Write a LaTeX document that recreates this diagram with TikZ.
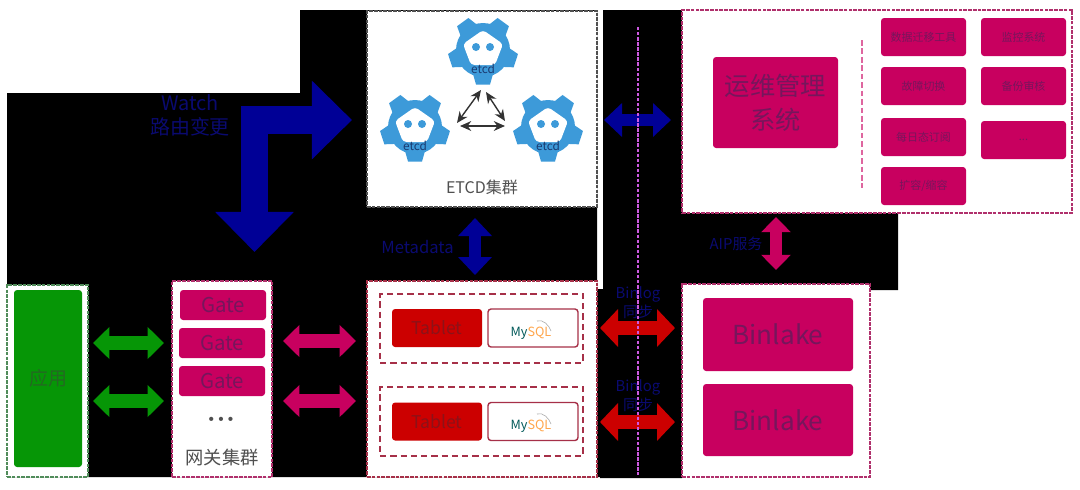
\documentclass[tikz,border=0pt]{standalone}
\usepackage{fontspec}
\setmainfont{Noto Sans CJK SC}
\newfontfamily\latinfont{Liberation Sans}
\usepackage{xcolor}
\definecolor{RosePink}{RGB}{200,0,95}
\definecolor{RoseText}{RGB}{118,22,92}
\definecolor{RoseBorder}{RGB}{176,48,108}
\definecolor{TabletRed}{RGB}{204,0,0}
\definecolor{TabletText}{RGB}{140,18,24}
\definecolor{RedBorder}{RGB}{166,48,72}
\definecolor{AppGreen}{RGB}{6,150,6}
\definecolor{AppText}{RGB}{36,104,34}
\definecolor{GreenBorder}{RGB}{80,140,90}
\definecolor{NavyArrow}{RGB}{0,0,150}
\definecolor{NavyText}{RGB}{10,10,112}
\definecolor{EtcdBlue}{RGB}{61,154,217}
\definecolor{EtcdText}{RGB}{26,58,112}
\definecolor{GrayText}{RGB}{80,80,80}
\definecolor{SplitViolet}{RGB}{205,90,225}
\usepackage{tikz}
\usetikzlibrary{arrows.meta}
\tikzset{
  % Size in reference pixels
  wh/.style 2 args={minimum width=#1*0.025cm, minimum height=#2*0.025cm},
  % Dashed white panels
  panel/.style={
    rectangle, draw=RoseBorder, fill=white, line width=0.9pt,
    dash pattern=on 2.6pt off 0.8pt, inner sep=0pt, outer sep=0pt
  },
  panel gray/.style={panel, draw=GrayText},
  panel red/.style={panel, draw=RedBorder},
  panel green/.style={panel, draw=GreenBorder},
  % Tablet groups
  group/.style={
    rectangle, draw=RedBorder, line width=1pt,
    dash pattern=on 4.5pt off 2.8pt, inner sep=0pt, outer sep=0pt
  },
  % Filled boxes
  rbox/.style={
    rectangle, rounded corners=2.2pt, fill=RosePink, text=RoseText,
    align=center, inner sep=0pt, outer sep=0pt
  },
  rbox red/.style={rbox, fill=TabletRed, text=TabletText},
  rbox green/.style={rbox, fill=AppGreen, text=AppText},
  rbox white/.style={rbox, fill=white, draw=RedBorder, line width=1pt},
  small/.style={rbox, wh={85}{38}, font=\fontsize{7.8}{9}\selectfont},
  gatebox/.style={rbox, wh={86}{30}, font=\fontsize{14.5}{16}\selectfont},
  % Free text
  note/.style={font=\fontsize{#1}{13.5}\selectfont, text=NavyText, align=center,
    inner sep=0pt, outer sep=0pt},
  grey/.style={font=\fontsize{#1}{#1}\selectfont, text=GrayText,
    inner sep=0pt, outer sep=0pt},
  % Block arrows
  arr green/.style={{Triangle[length=.41cm,width=.78cm]}-{Triangle[length=.41cm,width=.78cm]},
    line width=.33cm, draw=AppGreen},
  arr rose/.style={arr green, draw=RosePink},
  arr red/.style={{Triangle[length=.45cm,width=.92cm]}-{Triangle[length=.45cm,width=.92cm]},
    line width=.36cm, draw=TabletRed},
  arr navy/.style={{Triangle[length=.45cm,width=.82cm]}-{Triangle[length=.45cm,width=.82cm]},
    line width=.32cm, draw=NavyArrow},
  arr rosev/.style={{Triangle[length=.38cm,width=.72cm]}-{Triangle[length=.38cm,width=.72cm]},
    line width=.32cm, draw=RosePink},
  arr watch/.style={{Triangle[length=1cm,width=1.9cm]}-{Triangle[length=1cm,width=1.9cm]},
    line width=.68cm, draw=NavyArrow, line join=miter},
  arr thin/.style={{Stealth[length=8pt,width=7pt]}-{Stealth[length=8pt,width=7pt]},
    line width=1pt, draw=black!80},
  % etcd logo
  etcdgear/.pic={
    \fill[EtcdBlue] (0,0) circle (27);
    \foreach \a in {-90,-18,54,126,198}
      \fill[EtcdBlue, rotate=\a] (24,-10) -- (34.5,-7) -- (34.5,7) -- (24,10) -- cycle;
    \fill[white, rounded corners=2.5pt] (0,-20) -- (20,-6) -- (12,15) -- (-12,15) -- (-20,-6) -- cycle;
    \fill[EtcdBlue] (-7,-3) circle (4) (7,-3) circle (4);
    \node[font=\fontsize{8.4}{9}\selectfont, text=EtcdText, inner sep=0pt] (-name) at (0,19) {etcd};
  },
  % MySQL logo
  mysqllogo/.pic={
    \node[font=\fontsize{9}{10}\selectfont, inner sep=0pt] (-name) at (0,0)
      {\textcolor{teal!70!black}{My}\textcolor{orange!70}{SQL}};
    \draw[gray!70, line width=.4pt] (6,-12) .. controls (12,-14) and (18,-8) .. (20,-2);
  },
}

\begin{document}
\begin{tikzpicture}[x=0.025cm, y=-0.025cm]
  \useasboundingbox (0,0) rectangle (1080,489);

  %% Black ground
  \fill[black] (7,93) -- (300,93) -- (300,10) -- (597,10) -- (597,289) -- (600,289)
    -- (600,477) -- (7,477) -- cycle;
  \fill[black] (603,10) -- (682,10) -- (682,213) -- (898,213) -- (898,290) -- (870,290)
    -- (870,284) -- (682,284) -- (682,478) -- (600,478) -- (600,289) -- (603,289) -- cycle;

  %% Application
  \node[panel green, wh={81}{192}] (appp) at (47.5,381) {};
  \node[rbox green, wh={68}{177}, font=\fontsize{13.5}{15}\selectfont] (app) at (48,378.5) {应用};

  %% Gateway cluster
  \node[panel, wh={100}{196}] (gatep) at (222,379) {};
  \node[gatebox] (gate1) at (223,305) {Gate};
  \node[gatebox] (gate2) at (222,343) {Gate};
  \node[gatebox] (gate3) at (222,381) {Gate};
  \node[grey=11] (dots) at (221,421) {\latinfont •\kern3pt•\kern3pt•};
  \node[grey=13] (gatename) at (222,458) {网关集群};

  %% ETCD cluster
  \node[panel gray, wh={230}{196}] (etcdp) at (482,109) {};
  \pic (etcdA) at (483,50) {etcdgear};
  \pic (etcdB) at (415,127) {etcdgear};
  \pic (etcdC) at (548,127) {etcdgear};
  \node[grey=11.4] (etcdname) at (482,187) {ETCD集群};

  %% Tablets
  \node[panel red, wh={230}{196}] (tabp) at (482,379) {};
  \node[group, wh={203}{69}] (grp1) at (481.5,328.5) {};
  \node[group, wh={203}{69}] (grp2) at (481.5,421.5) {};
  \node[rbox red, wh={90}{38}, font=\fontsize{12.5}{14}\selectfont] (tab1) at (437,328) {Tablet};
  \node[rbox red, wh={90}{38}, font=\fontsize{12.5}{14}\selectfont] (tab2) at (437,421.5) {Tablet};
  \node[rbox white, wh={90}{38}] (sql1) at (533,328) {};
  \node[rbox white, wh={90}{38}] (sql2) at (533,421.5) {};
  \pic (logo1) at (531,333) {mysqllogo};
  \pic (logo2) at (531,426) {mysqllogo};

  %% Operations system
  \node[panel, wh={390}{203}] (opsp) at (877,111.5) {};
  \node[rbox, wh={125}{91}, font=\fontsize{18}{24}\selectfont] (ops) at (775.5,102.5) {运维管理\\系统};
  \coordinate (splitT) at (862,40);
  \coordinate (splitB) at (862,188);
  \draw[RosePink!60, line width=.8pt, dash pattern=on 4pt off 2pt] (splitT) -- (splitB);
  \node[small] (tool1) at (923.5,37) {数据迁移工具};
  \node[small] (tool2) at (1023.5,37) {监控系统};
  \node[small] (tool3) at (923.5,86) {故障切换};
  \node[small] (tool4) at (1023.5,86) {备份审核};
  \node[small] (tool5) at (923.5,137) {每日态订阅};
  \node[small] (tool6) at (1023.5,140) {...};
  \node[small] (tool7) at (923.5,186) {扩容/缩容};

  %% Binlake
  \node[panel, wh={188}{193}] (binp) at (776,380.5) {};
  \node[rbox, wh={150}{73}, font=\fontsize{18.6}{20}\selectfont] (bin1) at (778,334.5) {Binlake};
  \node[rbox, wh={150}{72}, font=\fontsize{18.6}{20}\selectfont] (bin2) at (778,420) {Binlake};

  %% Arrow ends
  \coordinate (a1l) at (93,343);   \coordinate (a1r) at (164,343);
  \coordinate (a2l) at (93,401);   \coordinate (a2r) at (164,401);
  \coordinate (g1l) at (283,341);  \coordinate (g1r) at (356,341);
  \coordinate (g2l) at (283,401);  \coordinate (g2r) at (356,401);
  \coordinate (b1l) at (600,328);  \coordinate (b1r) at (675,328);
  \coordinate (b2l) at (600,422);  \coordinate (b2r) at (675,422);
  \coordinate (metaT) at (475,218);  \coordinate (metaB) at (475,275);
  \coordinate (opsL) at (604,120);   \coordinate (opsR) at (671,120);
  \coordinate (apiT) at (776,217);   \coordinate (apiB) at (776,270);
  \coordinate (watchD) at (254.5,252); \coordinate (watchR) at (352,120);
  \coordinate (linkAl) at (481,90);  \coordinate (linkBr) at (457,123);
  \coordinate (linkAr) at (486,92);  \coordinate (linkCl) at (505,121);
  \coordinate (linkBb) at (460,126); \coordinate (linkCb) at (505,126);
  \coordinate (midT) at (638,27);    \coordinate (midB) at (638,475);

  %% Arrows
  \draw[arr green] (a1l) -- (a1r);
  \draw[arr green] (a2l) -- (a2r);
  \draw[arr rose] (g1l) -- (g1r);
  \draw[arr rose] (g2l) -- (g2r);
  \draw[arr red] (b1l) -- (b1r);
  \draw[arr red] (b2l) -- (b2r);
  \draw[arr navy] (metaT) -- (metaB);
  \draw[arr navy] (opsL) -- (opsR);
  \draw[arr rosev] (apiT) -- (apiB);
  \draw[arr watch] (watchD) |- (watchR);
  \draw[arr thin] (linkAl) -- (linkBr);
  \draw[arr thin] (linkAr) -- (linkCl);
  \draw[arr thin] (linkBb) -- (linkCb);

  %% Labels on black
  \node[note=14.2, font=\fontsize{14.2}{17.5}\selectfont] (watch) at (190,115.5) {Watch\\路由变更};
  \node[note=11.8] (meta) at (417.5,247) {Metadata};
  \node[note=10.6] (api) at (736,244) {AIP服务};
  \node[note=10.6] (log1) at (638,303) {Binlog\\同步};
  \node[note=10.6] (log2) at (638,396) {Binlog\\同步};

  %% Split line
  \draw[SplitViolet, line width=.8pt, dash pattern=on 2.4pt off 1.2pt] (midT) -- (midB);

\end{tikzpicture}
\end{document}
